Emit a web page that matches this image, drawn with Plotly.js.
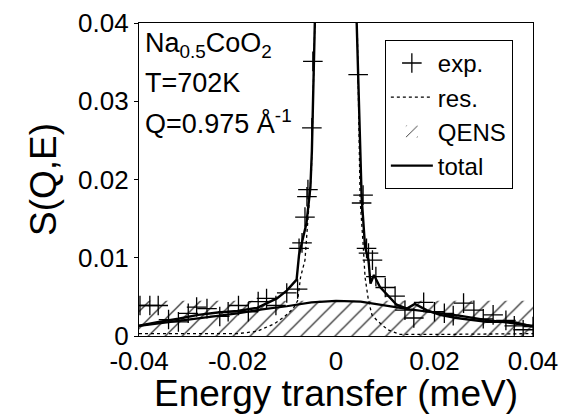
<!DOCTYPE html>
<html>
<head>
<meta charset="utf-8">
<script src="https://cdn.plot.ly/plotly-3.0.1.min.js"></script>
<style>html,body{margin:0;padding:0;background:#fff;}#chart{width:565px;height:414px;}</style>
</head>
<body>
<div id="chart"></div>
<script>
// experimental points (exp.)
const expX = [-0.0398,-0.0378,-0.0361,-0.034,-0.032,-0.030,-0.0283,-0.0262,-0.0236,-0.0219,-0.0198,-0.0178,-0.0158,-0.0141,-0.0122,-0.0100,-0.0078,
  -0.0075,-0.0069,-0.0063,-0.0059,-0.0057,-0.0049,-0.0047,
  0.0045,0.0055,0.0052,0.0062,0.0066,0.0074,0.0081,0.0100,0.0120,0.0140,0.0158,0.0178,0.0200,0.0220,0.0238,0.0259,0.0280,0.0299,0.0319,0.0345,0.0362,0.0380,0.0400];
const expY = [0.0039,0.0039,0.0039,0.0021,0.0018,0.0029,0.0037,0.0035,0.0025,0.0031,0.0039,0.0031,0.0044,0.0048,0.0039,0.0055,0.0060,
  0.0112,0.0119,0.0152,0.0178,0.0187,0.0266,0.0351,
  0.0334,0.0180,0.0170,0.0112,0.0106,0.0097,0.0076,0.0062,0.0051,0.0033,0.0023,0.0043,0.0031,0.0029,0.0026,0.0042,0.0033,0.0022,0.0027,0.0020,0.0013,0.0008,0.0012];

// resolution function (res.)
const resX = [-0.040,-0.020,-0.016,-0.0124,-0.0104,-0.0087,-0.0078,-0.0072,-0.0063,-0.0056,-0.0050,-0.0043,-0.0035,0.0,
  0.0035,0.0043,0.0049,0.0055,0.0059,0.0066,0.0073,0.0083,0.0095,0.0105,0.0130,0.0200,0.0400];
const resY = [0.0003,0.0003,0.0006,0.0016,0.0025,0.0035,0.0045,0.0075,0.0097,0.0152,0.0210,0.0400,0.0620,0.0900,
  0.0620,0.0400,0.0174,0.0118,0.0075,0.0045,0.0027,0.0020,0.0013,0.0008,0.0002,0.0002,0.0003];

// quasielastic component (QENS)
const qensX = [-0.040,-0.035,-0.030,-0.025,-0.020,-0.015,-0.010,-0.005,0.0,0.005,0.010,0.015,0.020,0.025,0.030,0.035,0.040];
const qensY = [0.0013,0.0017,0.0021,0.0025,0.0029,0.0034,0.0038,0.0043,0.0045,0.0044,0.0039,0.0034,0.0030,0.0026,0.0021,0.0017,0.0013];
// QENS hatched band: energy limits and height
const bandLimits = [-0.04, 0.04];
const bandTop = [0.0045];

// total fit
const totX = [-0.040,-0.036,-0.032,-0.028,-0.024,-0.020,-0.016,-0.013,-0.012,-0.010,-0.008,-0.0075,-0.0060,-0.0052,-0.0049,-0.0043,-0.0035,0.0,
  0.0035,0.0042,0.0049,0.0052,0.0059,0.0066,0.0070,0.0077,0.0089,0.0110,0.0123,0.0144,0.0160,0.0184,0.0211,0.0245,0.0306,0.0360,0.0400];
const totY = [0.0013,0.0018,0.0022,0.0027,0.0030,0.0032,0.0036,0.0045,0.0048,0.0058,0.0072,0.0104,0.0144,0.0190,0.0236,0.0400,0.0620,0.0900,
  0.0620,0.0400,0.0236,0.0178,0.0114,0.0097,0.0067,0.0078,0.0063,0.0048,0.0040,0.0035,0.0041,0.0033,0.0027,0.0023,0.0018,0.0018,0.0012];

const xTicks = [-0.04,-0.02,0,0.02,0.04];
const xTickText = ['-0.04','-0.02','0','0.02','0.04'];
const yTicks = [0,0.01,0.02,0.03,0.04];
const yTickText = ['0','0.01','0.02','0.03','0.04'];

const FONT = 'Liberation Sans, Arial, Helvetica, sans-serif';

const traces = [
  {type:'bar', name:'QENS', legendrank:3,
   x:[(bandLimits[0]+bandLimits[1])/2], y:bandTop, width:[bandLimits[1]-bandLimits[0]],
   marker:{color:'white', line:{width:0},
           pattern:{shape:'/', size:12, solidity:0.1, fgcolor:'#111', bgcolor:'white', fillmode:'replace'}}},
  {x: qensX, y: qensY, type:'scatter', mode:'lines', name:'QENS line', showlegend:false,
   line:{color:'black', width:2.2}},
  {x: resX, y: resY, type:'scatter', mode:'lines', name:'res.', legendrank:2,
   line:{color:'black', width:1.3, dash:'dot'}},
  {x: totX, y: totY, type:'scatter', mode:'lines', name:'total', legendrank:4,
   line:{color:'black', width:2.4}},
  {x: expX, y: expY, type:'scatter', mode:'markers', name:'exp.', legendrank:1,
   marker:{symbol:'cross-thin-open', size:14, line:{color:'black', width:1.3}, color:'black'}}
];

const layout = {
  width:565, height:414,
  margin:{l:139, r:32, t:23, b:78},
  paper_bgcolor:'white', plot_bgcolor:'white',
  font:{family:FONT, color:'black', size:26},
  showlegend:true,
  legend:{x:0.624, y:0.946, xanchor:'left', yanchor:'top', bgcolor:'white', bordercolor:'black', borderwidth:1,
          font:{size:24, family:FONT}, tracegroupgap:0, itemwidth:42},
  xaxis:{range:[-0.04,0.04], tickvals:xTicks, ticktext:xTickText, ticks:'outside', ticklen:2, tickcolor:'rgba(0,0,0,0)',
         showgrid:false, zeroline:false,
         showline:true, mirror:true, linecolor:'black', linewidth:1.2, layer:'below traces',
         tickfont:{size:26}, title:{text:'Energy transfer (meV)', font:{size:37}, standoff:13}},
  yaxis:{range:[0,0.04], tickvals:yTicks, ticktext:yTickText, ticks:'outside', ticklen:4, tickcolor:'black', showgrid:false, zeroline:false,
         showline:true, mirror:true, linecolor:'black', linewidth:1.2, layer:'below traces',
         tickfont:{size:26}, title:{text:'S(Q,E)', font:{size:37}, standoff:10}},
  annotations:[
    {xref:'paper', yref:'paper', x:0.01, y:(336-45)/313, xanchor:'left', yanchor:'middle', showarrow:false,
     text:'Na<sub>0.5</sub>CoO<sub>2</sub>', font:{size:27}},
    {xref:'paper', yref:'paper', x:0.01, y:(336-83)/313, xanchor:'left', yanchor:'middle', showarrow:false,
     text:'T=702K', font:{size:27}},
    {xref:'paper', yref:'paper', x:0.01, y:(336-122)/313, xanchor:'left', yanchor:'middle', showarrow:false,
     text:'Q=0.975 Å<sup>-1</sup>', font:{size:27}}
  ]
};

Plotly.newPlot('chart', traces, layout, {displayModeBar:false, staticPlot:true});
</script>
</body>
</html>
